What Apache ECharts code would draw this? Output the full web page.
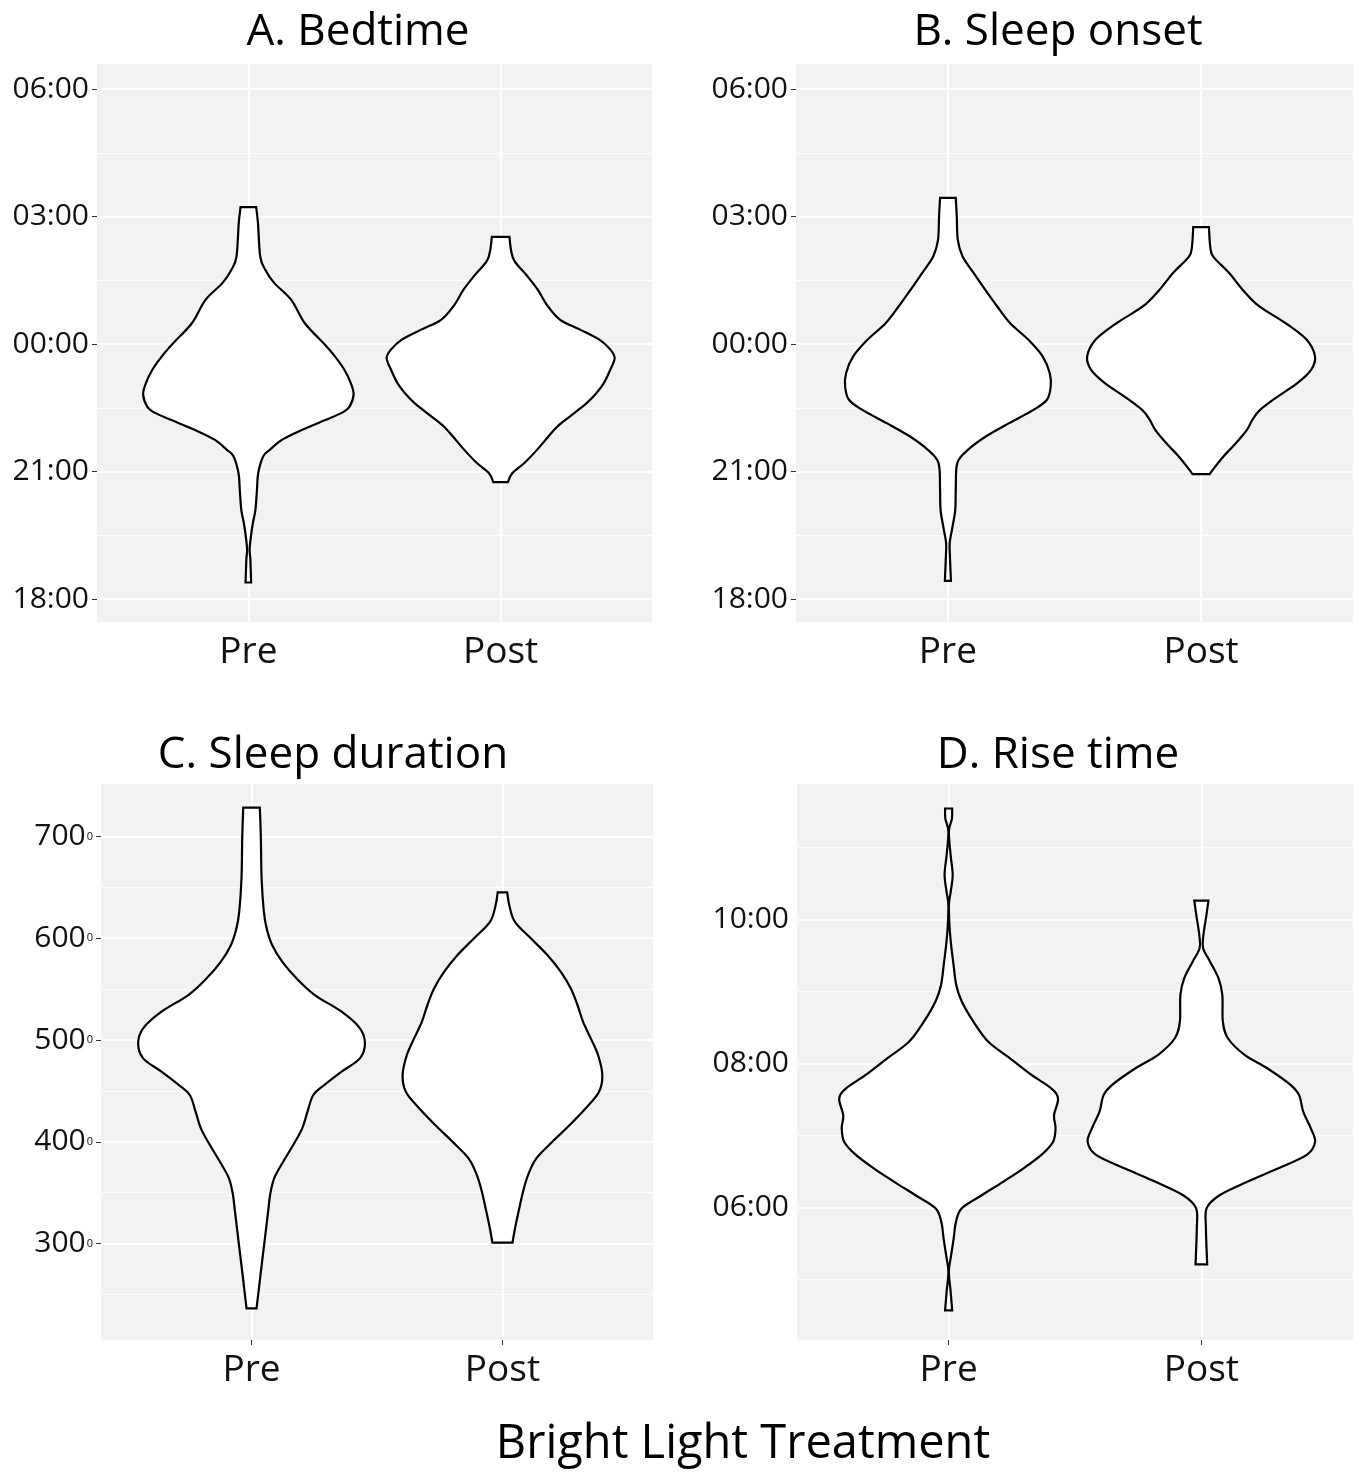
<!DOCTYPE html>
<html>
<head>
<meta charset="utf-8">
<script src="https://cdn.jsdelivr.net/npm/echarts@6/dist/echarts.min.js"></script>
<style>
  html, body {margin: 0; padding: 0; background: #fff;}
  #chart {width: 1357px; height: 1475px;}
</style>
</head>
<body>
<div id="chart"></div>
<script>
const categories = ["Pre", "Post"]

// clock axes: hours relative to midnight (negative = evening)
const clockTicks = [-6, -3, 0, 3, 6]
const clockLabels = ["18:00", "21:00", "00:00", "03:00", "06:00"]
const clockMinor = [-4.5, -1.5, 1.5, 4.5]
const durTicks = [300, 400, 500, 600, 700]
const durMinor = [250, 350, 450, 550, 650]
const riseTicks = [6, 8, 10]
const riseLabels = ["06:00", "08:00", "10:00"]
const riseMinor = [5, 7, 9, 11]

// violin outlines: y value and half width (in category units)
const bedPreY = [-5.61, -5.07, -4.84, -4.53, -4.21, -3.90, -3.43, -3.04, -2.64, -2.49, -2.25, -2.02, -1.78, -1.62, -1.47, -1.19, -0.92, -0.60, -0.29, 0.00, 0.49, 1.04, 1.44, 1.75, 2.06, 2.85, 3.22]
const bedPreW = [0.011, 0.008, 0.005, 0.010, 0.018, 0.028, 0.034, 0.039, 0.059, 0.085, 0.134, 0.212, 0.308, 0.370, 0.401, 0.417, 0.406, 0.380, 0.343, 0.301, 0.224, 0.170, 0.102, 0.067, 0.047, 0.038, 0.031]
const bedPostY = [-3.25, -3.04, -2.80, -2.49, -2.17, -1.94, -1.70, -1.39, -1.15, -0.92, -0.60, -0.33, -0.13, 0.10, 0.34, 0.57, 0.89, 1.28, 1.59, 1.95, 2.22, 2.52]
const bedPostW = [0.029, 0.046, 0.094, 0.144, 0.190, 0.225, 0.275, 0.341, 0.380, 0.409, 0.435, 0.452, 0.435, 0.393, 0.315, 0.236, 0.187, 0.147, 0.107, 0.055, 0.041, 0.035]

const onsetPreY = [-5.57, -5.00, -4.68, -4.37, -3.90, -3.43, -2.80, -2.49, -2.17, -1.86, -1.55, -1.31, -1.00, -0.68, -0.29, 0.10, 0.49, 0.89, 1.28, 1.67, 2.06, 2.45, 3.00, 3.44]
const onsetPreW = [0.012, 0.008, 0.007, 0.016, 0.029, 0.031, 0.037, 0.079, 0.151, 0.242, 0.338, 0.391, 0.406, 0.402, 0.374, 0.318, 0.246, 0.194, 0.147, 0.102, 0.058, 0.039, 0.035, 0.031]
const onsetPostY = [-3.06, -2.96, -2.64, -2.33, -2.02, -1.78, -1.55, -1.23, -0.92, -0.60, -0.29, 0.10, 0.49, 0.89, 1.28, 1.67, 2.06, 2.30, 2.75]
const onsetPostW = [0.034, 0.046, 0.089, 0.138, 0.181, 0.203, 0.233, 0.304, 0.380, 0.435, 0.450, 0.417, 0.334, 0.229, 0.164, 0.111, 0.048, 0.036, 0.031]

const durPreY = [236.3, 265.8, 298.6, 331.3, 347.7, 364.1, 380.4, 396.8, 413.2, 429.6, 446.0, 455.8, 468.9, 482.0, 496.7, 511.5, 527.8, 544.2, 560.6, 577.0, 593.3, 609.7, 626.1, 658.9, 699.8, 728.3]
const durPreW = [0.020, 0.034, 0.050, 0.066, 0.074, 0.090, 0.126, 0.166, 0.202, 0.223, 0.246, 0.290, 0.359, 0.432, 0.452, 0.432, 0.359, 0.252, 0.179, 0.122, 0.082, 0.060, 0.049, 0.040, 0.037, 0.033]
const durPostY = [300.9, 314.9, 331.3, 351.0, 367.3, 383.7, 400.1, 416.5, 432.9, 449.2, 465.6, 485.3, 501.6, 518.0, 534.4, 550.8, 567.1, 583.5, 599.9, 616.3, 632.7, 645.1]
const durPostW = [0.040, 0.050, 0.064, 0.082, 0.102, 0.135, 0.199, 0.268, 0.332, 0.385, 0.398, 0.381, 0.352, 0.321, 0.299, 0.272, 0.232, 0.179, 0.113, 0.049, 0.027, 0.019]

const risePreY = [4.57, 4.83, 5.11, 5.34, 5.57, 5.80, 5.99, 6.17, 6.36, 6.54, 6.73, 6.91, 7.10, 7.28, 7.51, 7.65, 7.84, 8.07, 8.30, 8.58, 8.86, 9.09, 9.41, 9.64, 9.88, 10.20, 10.38, 10.62, 10.89, 11.22, 11.40, 11.54]
const risePreW = [0.014, 0.008, 0.001, 0.010, 0.020, 0.029, 0.052, 0.131, 0.217, 0.295, 0.367, 0.413, 0.423, 0.417, 0.433, 0.407, 0.328, 0.243, 0.157, 0.098, 0.052, 0.030, 0.018, 0.010, 0.004, 0.001, 0.008, 0.016, 0.008, 0.001, 0.013, 0.014]
const risePostY = [5.21, 5.71, 5.99, 6.17, 6.36, 6.54, 6.73, 6.91, 7.10, 7.33, 7.56, 7.70, 7.93, 8.12, 8.35, 8.58, 8.95, 9.18, 9.41, 9.60, 9.78, 10.06, 10.26]
const risePostW = [0.023, 0.018, 0.021, 0.072, 0.184, 0.302, 0.417, 0.450, 0.433, 0.403, 0.387, 0.354, 0.262, 0.171, 0.105, 0.085, 0.083, 0.068, 0.035, 0.007, 0.008, 0.020, 0.028]

const FONT = "Open Sans"
const chart = echarts.init(document.getElementById("chart"))

const panels = [
  {title: "A. Bedtime", tx: 358, ty: 32, grid: [97, 64, 555, 558], range: [-6.54, 6.59],
    ticks: clockTicks, labels: clockLabels, minor: clockMinor, showTick: true,
    violins: [[bedPreY, bedPreW], [bedPostY, bedPostW]]},
  {title: "B. Sleep onset", tx: 1058, ty: 32, grid: [796, 64, 557, 558], range: [-6.54, 6.59],
    ticks: clockTicks, labels: clockLabels, minor: clockMinor, showTick: true,
    violins: [[onsetPreY, onsetPreW], [onsetPostY, onsetPostW]]},
  {title: "C. Sleep duration", tx: 333, ty: 755, grid: [101, 784, 552, 556], range: [205.3, 751.5],
    ticks: durTicks, labels: durTicks.map(v => "{a|" + v + "}{s|0}"), minor: durMinor, showTick: true,
    violins: [[durPreY, durPreW], [durPostY, durPostW]]},
  {title: "D. Rise time", tx: 1058, ty: 755, grid: [797, 784, 556, 556], range: [4.16, 11.88],
    ticks: riseTicks, labels: riseLabels, minor: riseMinor, showTick: false,
    violins: [[risePreY, risePreW], [risePostY, risePostW]]}
]

// smooth curve (catmull-rom) through screen points, appended to a path string
function curveThrough(pts) {
  let d = ""
  for (let i = 0; i < pts.length - 1; i++) {
    const p0 = pts[Math.max(i - 1, 0)], p1 = pts[i], p2 = pts[i + 1], p3 = pts[Math.min(i + 2, pts.length - 1)]
    const c1 = [p1[0] + (p2[0] - p0[0]) / 6, p1[1] + (p2[1] - p0[1]) / 6]
    const c2 = [p2[0] - (p3[0] - p1[0]) / 6, p2[1] - (p3[1] - p1[1]) / 6]
    d += " C" + c1[0] + "," + c1[1] + " " + c2[0] + "," + c2[1] + " " + p2[0] + "," + p2[1]
  }
  return d
}

const grids = [], xAxes = [], yAxes = [], series = [], texts = []

panels.forEach((p, i) => {
  grids.push({
    left: p.grid[0], top: p.grid[1], width: p.grid[2], height: p.grid[3],
    show: true, backgroundColor: "#f2f2f2", borderWidth: 0
  })
  xAxes.push({
    gridIndex: i, type: "value", min: 0.4, max: 2.6,
    axisLine: {show: false},
    axisTick: {show: true, customValues: [1, 2], length: 5, lineStyle: {color: "#333", width: 1}},
    axisLabel: {
      customValues: [1, 2], margin: 12,
      formatter: v => categories[v - 1],
      fontFamily: FONT, fontSize: 37, color: "#111"
    },
    splitLine: {show: true, lineStyle: {color: "#fff", width: 2}}
  })
  yAxes.push({
    gridIndex: i, type: "value", min: p.range[0], max: p.range[1],
    axisLine: {show: false},
    axisTick: {show: p.showTick, customValues: p.ticks, length: 5, lineStyle: {color: "#333", width: 1}},
    axisLabel: {
      customValues: p.ticks, margin: 8,
      formatter: v => p.labels[p.ticks.indexOf(v)],
      fontFamily: FONT, fontSize: 30, color: "#111",
      rich: {
        a: {fontFamily: FONT, fontSize: 30, color: "#111"},
        s: {fontFamily: FONT, fontSize: 11, color: "#111", padding: [0, 0, 0, 1]}
      }
    },
    splitLine: {show: true, lineStyle: {color: "#fff", width: 2}}
  })
  yAxes.push({
    gridIndex: i, type: "value", min: p.range[0], max: p.range[1], position: "left",
    axisLine: {show: false},
    axisTick: {show: false, customValues: p.minor},
    axisLabel: {show: false, customValues: p.minor},
    splitLine: {show: true, lineStyle: {color: "#fff", width: 1.2}}
  })
  p.violins.forEach((v, k) => {
    const ys = v[0], ws = v[1], pos = k + 1
    series.push({
      type: "custom",
      xAxisIndex: i,
      yAxisIndex: i * 2,
      data: [[pos, ys[0]]],
      silent: true,
      renderItem: (params, api) => {
        const right = ys.map((y, j) => api.coord([pos + ws[j], y]))
        const left = ys.map((y, j) => api.coord([pos - ws[j], y])).reverse()
        let d = "M" + right[0][0] + "," + right[0][1] + curveThrough(right)
        d += " L" + left[0][0] + "," + left[0][1] + curveThrough(left) + " Z"
        return {
          type: "path",
          shape: {pathData: d},
          style: {fill: "#fff", stroke: "#000", lineWidth: 2.2, lineJoin: "miter"}
        }
      }
    })
  })
  texts.push({
    type: "text", x: p.tx, y: p.ty,
    style: {text: p.title, font: "44px '" + FONT + "'", fill: "#000", align: "center", verticalAlign: "middle"}
  })
})

texts.push({
  type: "text", x: 743, y: 1445,
  style: {text: "Bright Light Treatment", font: "47px '" + FONT + "'", fill: "#000", align: "center", verticalAlign: "middle"}
})

chart.setOption({
  animation: false,
  grid: grids,
  xAxis: xAxes,
  yAxis: yAxes,
  series: series,
  graphic: texts
})
</script>
</body>
</html>
